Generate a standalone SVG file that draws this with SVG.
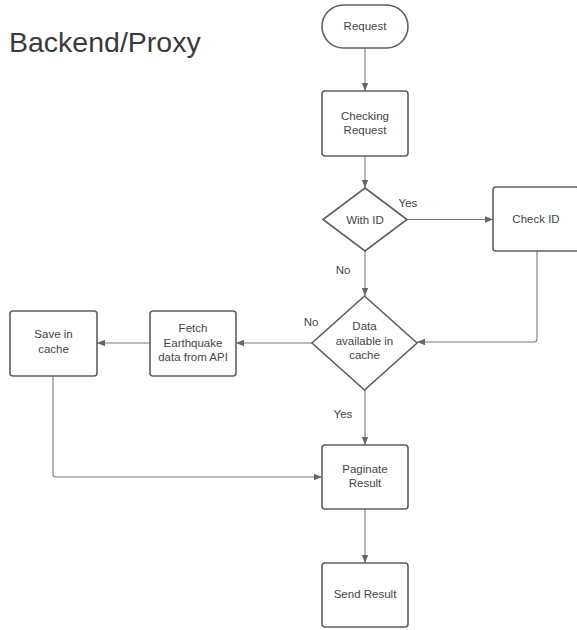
<svg xmlns="http://www.w3.org/2000/svg" width="577" height="630" viewBox="0 0 577 630">
<defs>
<style>
.n{fill:#fff;stroke:#5f5f5f;stroke-width:1.6}
.t{font-family:"Liberation Sans",Arial,sans-serif;font-size:11.5px;fill:#454545;text-anchor:middle}
.c{fill:none;stroke:#7b7b7b;stroke-width:1.1}
.title{font-family:"Liberation Sans",Arial,sans-serif;font-size:28.5px;fill:#3a3a3a}
</style>
<marker id="ah" viewBox="0 0 10 10" refX="10" refY="5" markerWidth="8" markerHeight="8" markerUnits="userSpaceOnUse" orient="auto">
<path d="M0,1 L10,5 L0,9 Z" fill="#666"/>
</marker>
</defs>
<rect width="577" height="630" fill="#fff"/>
<text class="title" x="9" y="52">Backend/Proxy</text>
<g id="connectors">
<path class="c" d="M365,48 V91" marker-end="url(#ah)"/>
<path class="c" d="M365,156 V188" marker-end="url(#ah)"/>
<path class="c" d="M407,219.5 H493" marker-end="url(#ah)"/>
<path class="c" d="M365,251 V296" marker-end="url(#ah)"/>
<path class="c" d="M537,251 V339 Q537,342 534,342 H417" marker-end="url(#ah)"/>
<path class="c" d="M312,343 H236" marker-end="url(#ah)"/>
<path class="c" d="M150,343 H97" marker-end="url(#ah)"/>
<path class="c" d="M365,390 V445" marker-end="url(#ah)"/>
<path class="c" d="M53,376 V474 Q53,477 56,477 H322" marker-end="url(#ah)"/>
<path class="c" d="M365,509 V563" marker-end="url(#ah)"/>
<text class="t" x="408" y="207">Yes</text>
<text class="t" x="343" y="274">No</text>
<text class="t" x="311" y="326">No</text>
<text class="t" x="343" y="418">Yes</text>
</g>
<g id="request">
<rect class="n" x="322" y="5" width="86" height="43" rx="21.5"/>
<text class="t" x="365" y="30">Request</text>
</g>
<g id="checking">
<rect class="n" x="322" y="91" width="86" height="65" rx="3"/>
<text class="t" x="365" y="120">Checking</text>
<text class="t" x="365" y="134">Request</text>
</g>
<g id="withid">
<path class="n" d="M365,188 L407,219.5 L365,251 L323,219.5 Z"/>
<text class="t" x="365" y="223.5">With ID</text>
</g>
<g id="checkid">
<rect class="n" x="493" y="187" width="86" height="64" rx="3"/>
<text class="t" x="536" y="223">Check ID</text>
</g>
<g id="data">
<path class="n" d="M364.5,296 L417,343 L364.5,390 L312,343 Z"/>
<text class="t" x="364.5" y="330">Data</text>
<text class="t" x="364.5" y="345">available in</text>
<text class="t" x="364.5" y="359">cache</text>
</g>
<g id="fetch">
<rect class="n" x="150" y="311" width="86" height="65" rx="3"/>
<text class="t" x="193" y="332">Fetch</text>
<text class="t" x="193" y="347">Earthquake</text>
<text class="t" x="193" y="361">data from API</text>
</g>
<g id="save">
<rect class="n" x="10" y="311" width="87" height="65" rx="3"/>
<text class="t" x="53.5" y="338">Save in</text>
<text class="t" x="53.5" y="353">cache</text>
</g>
<g id="paginate">
<rect class="n" x="322" y="445" width="86" height="64" rx="3"/>
<text class="t" x="365" y="473">Paginate</text>
<text class="t" x="365" y="487">Result</text>
</g>
<g id="send">
<rect class="n" x="322" y="563" width="86" height="64" rx="3"/>
<text class="t" x="365" y="598">Send Result</text>
</g>
</svg>
